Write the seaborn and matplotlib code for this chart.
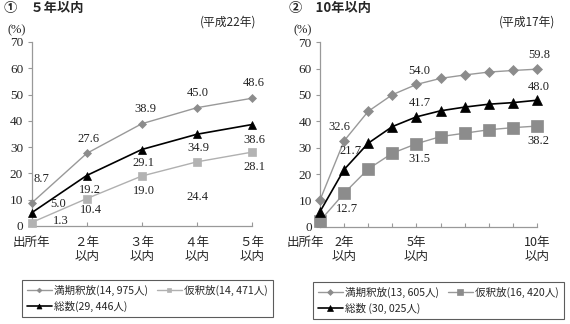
import matplotlib
matplotlib.use("Agg")
import matplotlib.pyplot as plt
import matplotlib.transforms as mtransforms
import seaborn as sns
import pandas as pd

# ---------------- data ----------------
left_x = ["出所年", "２年\n以内", "３年\n以内", "４年\n以内", "５年\n以内"]
left_manki = [8.7, 27.6, 38.9, 45.0, 48.6]
left_karishaku = [1.3, 10.4, 19.0, 24.4, 28.1]
left_sousu = [5.0, 19.2, 29.1, 34.9, 38.6]

right_x = ["出所年", "2年\n以内", "", "", "5年\n以内", "", "", "", "", "10年\n以内"]
right_manki = [10.1, 32.6, 43.8, 50.1, 54.0, 56.3, 57.6, 58.7, 59.3, 59.8]
right_karishaku = [2.2, 12.7, 21.9, 27.9, 31.5, 34.2, 35.5, 36.8, 37.6, 38.2]
right_sousu = [5.7, 21.7, 31.7, 38.0, 41.7, 44.0, 45.4, 46.5, 47.1, 48.0]

left_labels = ["満期釈放(14, 975人)", "仮釈放(14, 471人)", "総数(29, 446人)"]
right_labels = ["満期釈放(13, 605人)", "仮釈放(16, 420人)", "総数 (30, 025人)"]

left_title = "①　５年以内"
right_title = "②　10年以内"
left_note = "(平成22年)"
right_note = "(平成17年)"
unit = "(%)"
yticks = [0, 10, 20, 30, 40, 50, 60, 70]

# ---------------- styles ----------------
W, H = 570, 324
DPI = 100
JP = ["Noto Sans CJK JP", "DejaVu Sans"]
SERIF = ["Liberation Serif", "DejaVu Serif"]

sns.set_theme(style="white")
plt.rcParams["font.family"] = JP

fig = plt.figure(figsize=(W / DPI, H / DPI), dpi=DPI)

def frac_rect(x0, x1, ytop, ybot):
    return [x0 / W, 1 - ybot / H, (x1 - x0) / W, (ybot - ytop) / H]

axL = fig.add_axes(frac_rect(31.5, 252, 42, 226))
axR = fig.add_axes(frac_rect(320, 537, 42.3, 226.7))

AX_COL = "#999999"

def style_axes(ax, n, xlabels):
    ax.set_xlim(0, n - 1)
    ax.set_ylim(0, 70)
    for s in ["top", "right"]:
        ax.spines[s].set_visible(False)
    for s in ["left", "bottom"]:
        ax.spines[s].set_color(AX_COL)
        ax.spines[s].set_linewidth(0.9)
    ax.set_yticks(yticks)
    ax.set_yticklabels([str(v) for v in yticks], family=SERIF, fontsize=9.5)
    ax.tick_params(axis="y", direction="out", length=3, width=0.8, color=AX_COL, pad=3, left=True)
    ax.set_xticks(range(n))
    ax.set_xticklabels(xlabels, fontsize=9, linespacing=1.1)
    ax.tick_params(axis="x", direction="in", length=3, width=0.8, color=AX_COL, pad=7, bottom=True)
    ax.set_xlabel("")
    ax.set_ylabel("")
    ax.grid(False)

series_style = {
    "L": [
        dict(marker="D", markersize=4, color="#999999", mfc="#8c8c8c", mec="#8c8c8c", lw=1.0),
        dict(marker="s", markersize=6, color="#b0b0b0", mfc="#b3b3b3", mec="#b3b3b3", lw=1.0),
        dict(marker="^", markersize=6, color="black", mfc="black", mec="black", lw=1.2),
    ],
    "R": [
        dict(marker="D", markersize=5, color="#999999", mfc="#8c8c8c", mec="#8c8c8c", lw=1.0),
        dict(marker="s", markersize=8, color="#999999", mfc="#8c8c8c", mec="#8c8c8c", lw=1.0),
        dict(marker="^", markersize=7.5, color="black", mfc="black", mec="black", lw=1.2),
    ],
}

def draw(ax, values_list, labels, styles):
    handles = []
    for vals, lab, st in zip(values_list, labels, styles):
        df = pd.DataFrame({"x": list(range(len(vals))), "y": vals})
        sns.lineplot(data=df, x="x", y="y", ax=ax, legend=False, clip_on=False,
                     markeredgewidth=0.5, zorder=3,
                     color=st["color"], marker=st["marker"], markersize=st["markersize"],
                     markerfacecolor=st["mfc"], markeredgecolor=st["mec"], linewidth=st["lw"])
        handles.append(ax.lines[-1])
    for h, lab in zip(handles, labels):
        h.set_label(lab)
    return handles

hL = draw(axL, [left_manki, left_karishaku, left_sousu], left_labels, series_style["L"])
hR = draw(axR, [right_manki, right_karishaku, right_sousu], right_labels, series_style["R"])

style_axes(axL, len(left_x), left_x)
style_axes(axR, len(right_x), right_x)

# shift first tick label of right chart left
for lab in axR.get_xticklabels()[:1]:
    lab.set_ha("right")
    lab.set_transform(lab.get_transform() + mtransforms.ScaledTranslation(4 / DPI, 0, fig.dpi_scale_trans))

# ---------------- value labels ----------------
ANN = dict(textcoords="offset pixels", ha="center", va="center", fontsize=9,
           family=SERIF, color="#222222", zorder=5)

left_offsets = [
    [(10, -24), (2, -14), (4, -15), (1, -15), (2, -15)],
    [(29, -2), (4, 11), (2, 15), (1, 35), (2, 15)],
    [(27, -9), (3, 14), (2, 13), (1, 14), (2, 15)],
]
for vals, offs in zip([left_manki, left_karishaku, left_sousu], left_offsets):
    for i, (v, (dx, dy)) in enumerate(zip(vals, offs)):
        axL.annotate(f"{v:.1f}", xy=(i, v), xytext=(dx, -dy), annotation_clip=False, **ANN)

right_label_idx = [1, 4, 9]
right_offsets = [
    [(-5, -14), (3, -13), (2, -14)],
    [(3, 16), (3, 15), (1, 15)],
    [(6, -19), (3, -14), (2, -13)],
]
for vals, offs in zip([right_manki, right_karishaku, right_sousu], right_offsets):
    for i, (dx, dy) in zip(right_label_idx, offs):
        axR.annotate(f"{vals[i]:.1f}", xy=(i, vals[i]), xytext=(dx, -dy), annotation_clip=False, **ANN)

# ---------------- texts ----------------
def ftext(x, y, s, **kw):
    fig.text(x / W, 1 - y / H, s, **kw)

ftext(4, 8, left_title, fontsize=9.5, fontweight="bold", va="center", ha="left")
ftext(289, 8, right_title, fontsize=9.5, fontweight="bold", va="center", ha="left")
ftext(228, 22, left_note, fontsize=8.5, va="center", ha="center")
ftext(527, 22, right_note, fontsize=8.5, va="center", ha="center")
ftext(17, 30, unit, fontsize=9, va="center", ha="center", family=SERIF)
ftext(303, 30, unit, fontsize=9, va="center", ha="center", family=SERIF)

# ---------------- legends ----------------
def add_legend(handles, x0, y0):
    order = [handles[0], handles[2], handles[1]]
    leg = fig.legend(handles=order, labels=[h.get_label() for h in order], ncol=2,
                     loc="upper left", bbox_to_anchor=(x0 / W, 1 - y0 / H),
                     fontsize=7.6, frameon=True, fancybox=False, handlelength=2.4,
                     handletextpad=0.2, columnspacing=0.8, borderpad=0.45,
                     labelspacing=0.5, borderaxespad=0, markerscale=0.6)
    fr = leg.get_frame()
    fr.set_edgecolor("#333333")
    fr.set_linewidth(0.8)
    return leg

add_legend(hL, 22, 280)
add_legend(hR, 313, 282)

fig.savefig("out.png", dpi=DPI)
